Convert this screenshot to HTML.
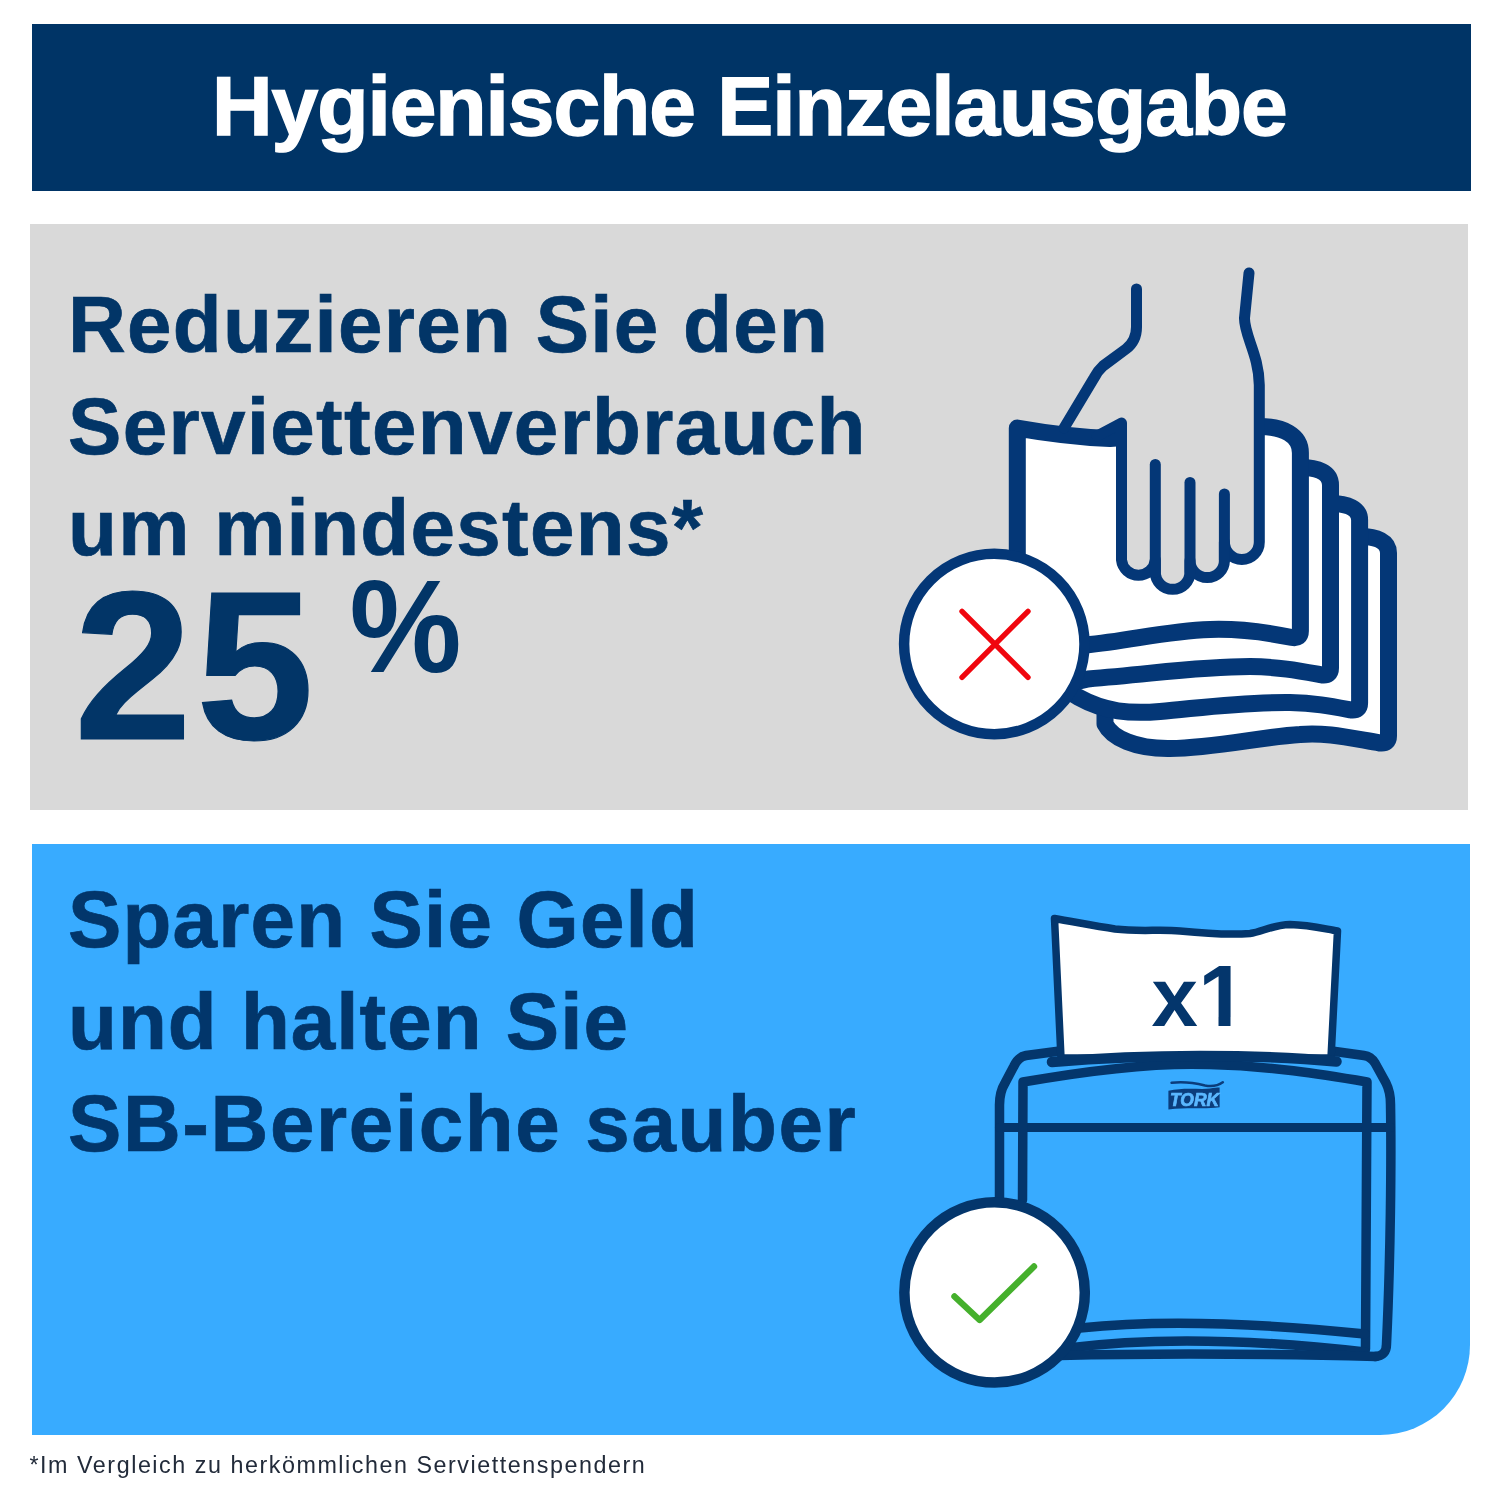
<!DOCTYPE html>
<html lang="de">
<head>
<meta charset="utf-8">
<title>Hygienische Einzelausgabe</title>
<style>
html,body{margin:0;padding:0;background:#fff;}
body{width:1500px;height:1500px;overflow:hidden;position:relative;}
svg{position:absolute;left:0;top:0;display:block;}
.b{font-family:"Liberation Sans",Arial,sans-serif;font-weight:700;}
.r{font-family:"Liberation Sans",Arial,sans-serif;font-weight:400;}
</style>
</head>
<body>
<svg width="1500" height="1500" viewBox="0 0 1500 1500">
  <!-- backgrounds -->
  <rect x="32" y="24" width="1439" height="167" fill="#003466"/>
  <rect x="30" y="224" width="1438" height="586" fill="#d9d9d9"/>
  <path d="M32 844 H1470 V1345 A90 90 0 0 1 1380 1435 H32 Z" fill="#38abff"/>

  <!-- header -->
  <text class="b" x="212" y="135.3" font-size="84" fill="#fff" stroke="#fff" stroke-width="1.4" letter-spacing="-1.08">Hygienische Einzelausgabe</text>

  <!-- section 1 text -->
  <g class="b" fill="#023567" stroke="#023567" stroke-width="0.7" font-size="80">
    <text x="68" y="351.5" letter-spacing="1.29">Reduzieren Sie den</text>
    <text x="68" y="453.5" letter-spacing="1.32">Serviettenverbrauch</text>
    <text x="68" y="555" letter-spacing="1.31">um mindestens*</text>
  </g>
  <text class="b" x="74" y="739" font-size="212" fill="#023567" stroke="#023567" stroke-width="1.2" letter-spacing="4">25</text>
  <text class="b" transform="translate(349.5 672) scale(0.955 1)" font-size="132" fill="#023567">%</text>

  <!-- section 2 text -->
  <g class="b" fill="#02366b" stroke="#02366b" stroke-width="0.7" font-size="80">
    <text x="68" y="947.3" letter-spacing="1.16">Sparen Sie Geld</text>
    <text x="68" y="1049.2" letter-spacing="1.02">und halten Sie</text>
    <text x="68" y="1151.3" letter-spacing="1.61">SB-Bereiche sauber</text>
  </g>


  <!-- ICON 1: hand + napkins -->
  <g stroke="#043777" stroke-linejoin="round" stroke-linecap="round">
    <!-- napkin 4 (back) -->
    <path d="M1105 560 L1105 545 L1360 536.5 C1377 536.5 1388.5 541.5 1388.5 553 L1388.5 736 Q1388.5 744 1380 743 C1350 738 1325 732 1300 734.5 C1260 737 1215 748 1170 748.5 C1135 749 1112 738 1105 724 Z" fill="#fff" stroke-width="17"/>
    <!-- napkin 3 -->
    <path d="M1050 680 L1050 510 L1330 503.5 C1348 503.5 1359.6 508.5 1359.6 520 L1359.6 703 Q1359.6 711 1351 710 C1330 706 1315 703 1290 702.5 C1240 702 1200 708 1160 711.5 C1130 714 1105 712 1078 697 Z" fill="#fff" stroke-width="17"/>
    <!-- napkin 2 -->
    <path d="M1040 690 L1040 470 L1300 467.5 C1318 467.5 1330.5 472.5 1330.5 485 L1330.5 668 Q1330.5 676 1322 675 C1300 671 1280 667 1250 666.5 C1200 666.5 1160 673 1088 679 Z" fill="#fff" stroke-width="17"/>
    <!-- napkin 1 (front) -->
    <path d="M1017.3 648 L1017.3 428 C1040 432 1075 437 1110 438.5 L1259 426.5 C1283 426.5 1300.4 435 1300.4 453 L1300.4 631 Q1300.4 639 1292 637.5 C1265 632 1240 628.5 1210 629.5 C1165 631 1130 641 1085 645 Z" fill="#fff" stroke-width="17"/>
  </g>
  <!-- hand -->
  <path d="M1121.5 410 L1121.5 560 A17 17 0 0 0 1155.3 560 L1155.3 572 A17.35 17.35 0 0 0 1190 572 L1190 560.4 A17.2 17.2 0 0 0 1224.4 560.4 L1224.4 542 A17.3 17.3 0 0 0 1259.3 542 L1259.3 410 Z" fill="#d9d9d9"/>
  <g fill="none" stroke="#043777" stroke-width="11" stroke-linecap="round" stroke-linejoin="round">
    <path d="M1097 436 L1121.5 423 L1121.5 560 A17 17 0 0 0 1155.3 560 L1155.3 572 A17.35 17.35 0 0 0 1190 572 L1190 560.4 A17.2 17.2 0 0 0 1224.4 560.4 L1224.4 542 A17.3 17.3 0 0 0 1259.3 542 L1259.3 385 C1259 355 1244 335 1244.5 318 L1249 273"/>
    <path d="M1155.3 464.5 L1155.3 572"/>
    <path d="M1190 482.5 L1190 572"/>
    <path d="M1224.4 494 L1224.4 560"/>
    <path d="M1136.5 289 L1136.5 327 Q1136.5 341 1126 349 L1103 366 Q1097.5 371 1094 378 L1064 428"/>
  </g>
  <circle cx="994.3" cy="644" r="90.2" fill="#fff" stroke="#043777" stroke-width="10.5"/>
  <g stroke="#f0060e" stroke-width="5.4" stroke-linecap="round">
    <path d="M962 611.3 L1028 677.3 M962 677.3 L1028 611.3"/>
  </g>

  <!-- ICON 2: dispenser -->
  <g fill="none" stroke="#04366c" stroke-linecap="round" stroke-linejoin="round">
    <!-- outer shell -->
    <path d="M999.5 1200 L999.5 1105 Q999.5 1092 1005 1083 L1014 1066 Q1018 1057 1026 1055.5 L1060 1051" stroke-width="9.5"/>
    <path d="M1328 1050.5 L1364 1055.5 Q1371 1056.5 1375 1063 L1386 1083 Q1390.5 1092 1390.5 1104 C1391.5 1160 1390.5 1260 1386.5 1344 Q1386.5 1356 1375 1356.5" stroke-width="9.5"/>
    <!-- horizontal band line -->
    <path d="M999.5 1127.5 L1390.5 1127.5" stroke-width="9"/>
    <!-- inner shell -->
    <path d="M1022.5 1200 L1023 1082 C1080 1072 1150 1062 1210 1064.5 C1270 1066 1320 1074 1367 1082 L1365.5 1349" stroke-width="9.5"/>
    <!-- bottom lines -->
    <path d="M1080 1328 Q1190 1316 1365 1334" stroke-width="9.5"/>
    <path d="M1068 1348 Q1190 1332 1365 1352" stroke-width="9.5"/>
    <path d="M1060 1355.5 Q1200 1352 1376 1356.5" stroke-width="9.5"/>
  </g>
  <!-- napkin sticking out -->
  <path d="M1061 1058 L1054.5 918.5 C1075 922 1095 926 1115 929 C1140 932 1160 929 1180 931 C1200 933 1230 935 1250 933.5 C1262 932 1272 925 1290 924.5 C1310 925 1325 929 1337.5 931 L1331 1058 Z" fill="#fff" stroke="#04366c" stroke-width="7.5" stroke-linejoin="round"/>
  <!-- slot -->
  <path d="M1052 1062 C1100 1058 1150 1056 1200 1056 C1260 1056 1300 1058 1336.5 1061.5" fill="none" stroke="#04366c" stroke-width="10.5" stroke-linecap="round"/>
  <clipPath id="c1"><rect x="1190" y="950" width="60" height="67.1"/><rect x="1218.5" y="950" width="12" height="80"/></clipPath>
  <text class="b" x="1151.5" y="1026" font-size="83.3" fill="#04366c">x</text>
  <text class="b" x="1198.2" y="1026" font-size="87.2" fill="#04366c" clip-path="url(#c1)">1</text>
  <!-- TORK logo -->
  <path d="M1171.6 1082.8 C1185 1081 1195 1083 1205 1085.5 C1213 1087 1219 1085 1222.8 1082.3" fill="none" stroke="#0b3d7c" stroke-width="2.6" stroke-linecap="round"/>
  <path d="M1168.4 1090.8 C1185 1087 1200 1090 1210 1088.5 C1214 1088 1217 1087.6 1219.6 1087.6 L1219.6 1107.3 C1205 1109.5 1190 1107 1168.4 1109.5 Z" fill="#0b3d7c"/>
  <text class="b" x="1170" y="1105.7" font-size="17.5" font-style="italic" fill="#5bb8ff" stroke="#5bb8ff" stroke-width="0.7">TORK</text>
  <circle cx="994.6" cy="1292.4" r="90.2" fill="#fff" stroke="#04366c" stroke-width="10.5"/>
  <path d="M954.5 1296.5 L979.6 1320 L1034 1266.5" fill="none" stroke="#45b02c" stroke-width="6.4" stroke-linecap="round" stroke-linejoin="round"/>

  <!-- footnote -->
  <text class="r" x="29.5" y="1473" font-size="23.3" fill="#222b3a" letter-spacing="1.54">*Im Vergleich zu herkömmlichen Serviettenspendern</text>
</svg>
</body>
</html>
